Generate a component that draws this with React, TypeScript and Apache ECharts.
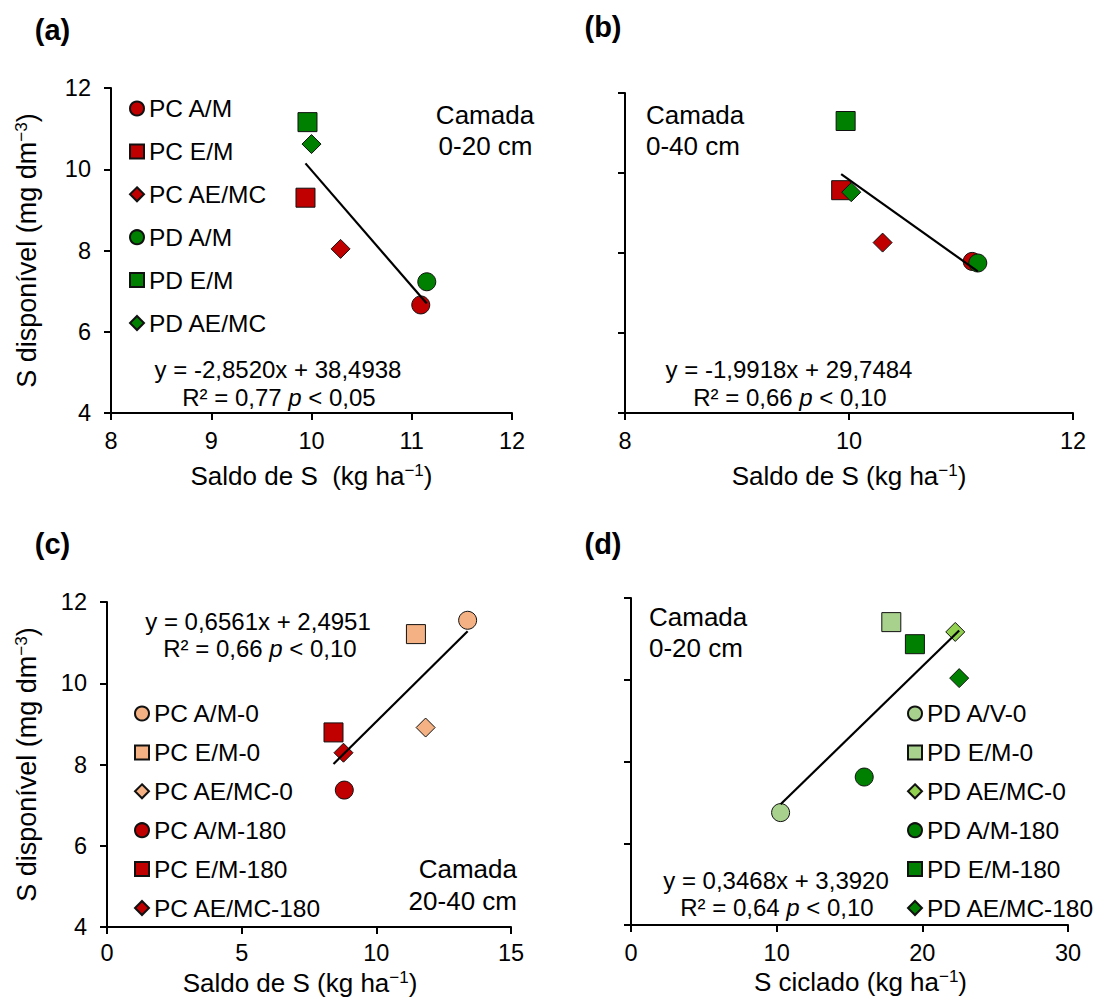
import React, { useEffect, useRef } from 'react';
import * as echarts from 'echarts';

const FONT = '"Liberation Sans", Arial, Helvetica, sans-serif';

// Panel (a) – Camada 0-20 cm
const namesAB = ['PC A/M', 'PC E/M', 'PC AE/MC', 'PD A/M', 'PD E/M', 'PD AE/MC'];
const xA = [11.09, 9.94, 10.29, 11.15, 9.96, 10.0];
const yA = [6.66, 9.3, 8.04, 7.23, 11.16, 10.62];
const fitA = [-2.852, 38.4938];

// Panel (b) – Camada 0-40 cm
const xB = [11.1, 9.93, 10.3, 11.15, 9.97, 10.02];
const yB = [7.79, 9.57, 8.26, 7.75, 11.3, 9.52];
const fitB = [-1.9918, 29.7484];

// Panel (c) – Camada 20-40 cm
const namesC = ['PC A/M-0', 'PC E/M-0', 'PC AE/MC-0', 'PC A/M-180', 'PC E/M-180', 'PC AE/MC-180'];
const xC = [13.39, 11.47, 11.83, 8.81, 8.41, 8.78];
const yC = [11.55, 11.21, 8.91, 7.37, 8.79, 8.29];
const fitC = [0.6561, 2.4951];

// Panel (d) – Camada 0-20 cm
const namesD = ['PD A/V-0', 'PD E/M-0', 'PD AE/MC-0', 'PD A/M-180', 'PD E/M-180', 'PD AE/MC-180'];
const xD = [10.27, 17.87, 22.26, 16.01, 19.49, 22.53];
const yD = [6.75, 11.41, 11.17, 7.62, 10.87, 10.04];
const fitD = [0.3468, 3.392];

const symbols = ['circle', 'rect', 'diamond', 'circle', 'rect', 'diamond'];
const colorsAB = ['#C00000', '#C00000', '#C00000', '#008000', '#008000', '#008000'];
const colorsC = ['#F4B183', '#F4B183', '#F4B183', '#C00000', '#C00000', '#C00000'];
const colorsD = ['#A9D18E', '#A9D18E', '#92D050', '#008000', '#008000', '#008000'];

const symSize = (s: string) => (s === 'circle' ? 18 : 19);

function scatterSeries(names: string[], xs: number[], ys: number[], colors: string[], idx: number) {
  return names.map((n, i) => ({
    type: 'scatter',
    name: n,
    xAxisIndex: idx,
    yAxisIndex: idx,
    symbol: symbols[i],
    symbolSize: symSize(symbols[i]),
    itemStyle: { color: colors[i], borderColor: '#111', borderWidth: 1, opacity: 1 },
    emphasis: { disabled: true },
    data: [[xs[i], ys[i]]],
    z: 2,
  }));
}

function trendSeries(xs: number[], fit: number[], idx: number) {
  const x0 = Math.min(...xs);
  const x1 = Math.max(...xs);
  return {
    type: 'line',
    xAxisIndex: idx,
    yAxisIndex: idx,
    symbol: 'none',
    silent: true,
    lineStyle: { color: '#000', width: 2.2 },
    data: [
      [x0, fit[0] * x0 + fit[1]],
      [x1, fit[0] * x1 + fit[1]],
    ],
    z: 3,
  };
}

const axisLine = { show: true, onZero: false, lineStyle: { color: '#000', width: 2 } };
const axisTick = { show: true, inside: false, length: 7, lineStyle: { color: '#000', width: 2 } };
const nameStyle = (fontSize: number, padding?: number[]) => ({
  fontSize,
  fontFamily: FONT,
  color: '#000',
  lineHeight: 28,
  rich: { sup: { fontSize: 17, fontFamily: FONT, color: '#000', verticalAlign: 'top', lineHeight: 17 } },
  ...(padding ? { padding } : {}),
});

function xAx(idx: number, min: number, max: number, interval: number, name: string, gap: number, margin: number, padding?: number[]) {
  return {
    gridIndex: idx,
    type: 'value',
    min,
    max,
    interval,
    name,
    nameLocation: 'middle',
    nameGap: gap,
    nameTextStyle: nameStyle(26, padding),
    axisLine,
    axisTick,
    axisLabel: { fontSize: 23.5, fontFamily: FONT, color: '#000', margin },
    splitLine: { show: false },
  };
}

function yAx(idx: number, showLabels: boolean, gap: number) {
  return {
    gridIndex: idx,
    type: 'value',
    min: 4,
    max: 12,
    interval: 2,
    name: showLabels ? 'S disponível (mg dm{sup|−3})' : '',
    nameLocation: 'middle',
    nameGap: gap,
    nameTextStyle: nameStyle(27),
    axisLine,
    axisTick,
    axisLabel: { show: showLabels, fontSize: 23.5, fontFamily: FONT, color: '#000', margin: 20 },
    splitLine: { show: false },
  };
}

function txt(text: string, x: number, y: number, fontSize: number, align = 'center', bold = false) {
  return {
    type: 'text',
    x,
    y,
    silent: true,
    style: {
      text,
      x: 0,
      y: 0,
      fontSize,
      fontFamily: FONT,
      fontWeight: bold ? 'bold' : 'normal',
      fill: '#000',
      align,
      verticalAlign: 'middle',
      rich: {
        i: { fontStyle: 'italic', fontSize, fontFamily: FONT, fill: '#000' },
      },
    },
  };
}

const legendBase = {
  orient: 'vertical',
  itemWidth: 14,
  itemHeight: 14,
  padding: 0,
  selectedMode: false,
  textStyle: { fontSize: 24.5, fontFamily: FONT, color: '#000', lineHeight: 24 },
};

export default function App() {
  const ref = useRef<HTMLDivElement>(null);
  useEffect(() => {
    if (!ref.current) return;
    const chart = echarts.init(ref.current, null, { renderer: 'svg' });
    const option: any = {
      animation: false,
      backgroundColor: '#fff',
      textStyle: { fontFamily: FONT },
      grid: [
        { left: 111, top: 88, width: 401, height: 325, outerBoundsMode: 'none' },
        { left: 625, top: 93, width: 448, height: 320, outerBoundsMode: 'none' },
        { left: 107, top: 602, width: 404, height: 325, outerBoundsMode: 'none' },
        { left: 631, top: 598, width: 437, height: 327, outerBoundsMode: 'none' },
      ],
      xAxis: [
        xAx(0, 8, 12, 1, 'Saldo de S  (kg ha{sup|−1})', 49, 16),
        xAx(1, 8, 12, 2, 'Saldo de S (kg ha{sup|−1})', 49, 16),
        xAx(2, 0, 15, 5, 'Saldo de S (kg ha{sup|−1})', 42, 14, [0, 18, 0, 0]),
        xAx(3, 0, 30, 10, 'S ciclado (kg ha{sup|−1})', 43, 16, [0, 0, 0, 22]),
      ],
      yAxis: [yAx(0, true, 70), yAx(1, false, 0), yAx(2, true, 66), yAx(3, false, 0)],
      legend: [
        { ...legendBase, data: namesAB, left: 129, top: 96, itemGap: 17.9 },
        { ...legendBase, data: namesC, left: 134, top: 701, itemGap: 13.9 },
        { ...legendBase, data: namesD, left: 907, top: 701, itemGap: 13.9 },
      ],
      series: [
        ...scatterSeries(namesAB, xA, yA, colorsAB, 0),
        trendSeries(xA, fitA, 0),
        ...scatterSeries(namesAB, xB, yB, colorsAB, 1),
        trendSeries(xB, fitB, 1),
        ...scatterSeries(namesC, xC, yC, colorsC, 2),
        trendSeries(xC, fitC, 2),
        ...scatterSeries(namesD, xD, yD, colorsD, 3),
        trendSeries(xD, fitD, 3),
      ],
      graphic: {
        elements: [
          txt('(a)', 52.5, 30, 29, 'center', true),
          txt('(b)', 603, 27, 29, 'center', true),
          txt('(c)', 52.5, 544, 29, 'center', true),
          txt('(d)', 603, 544, 29, 'center', true),
          txt('Camada', 485, 114.5, 26),
          txt('0-20 cm', 485.5, 146, 26),
          txt('Camada', 646, 114.5, 26, 'left'),
          txt('0-40 cm', 646, 146, 26, 'left'),
          txt('Camada', 517, 869, 26, 'right'),
          txt('20-40 cm', 517, 900.5, 26, 'right'),
          txt('Camada', 649, 617, 26, 'left'),
          txt('0-20 cm', 649, 648, 26, 'left'),
          txt('y = -2,8520x + 38,4938', 278, 369, 24),
          txt('R² = 0,77 {i|p} < 0,05', 279, 397, 24),
          txt('y = -1,9918x + 29,7484', 789, 369, 24),
          txt('R² = 0,66 {i|p} < 0,10', 790, 397, 24),
          txt('y = 0,6561x + 2,4951', 258, 621, 24),
          txt('R² = 0,66 {i|p} < 0,10', 260, 648, 24),
          txt('y = 0,3468x + 3,3920', 776, 880, 24),
          txt('R² = 0,64 {i|p} < 0,10', 777, 907, 24),
        ],
      },
    };
    chart.setOption(option);
    return () => chart.dispose();
  }, []);
  return (
    <div
      ref={ref}
      style={{ position: 'fixed', left: 0, top: 0, width: 1096, height: 1001, background: '#fff' }}
    />
  );
}
